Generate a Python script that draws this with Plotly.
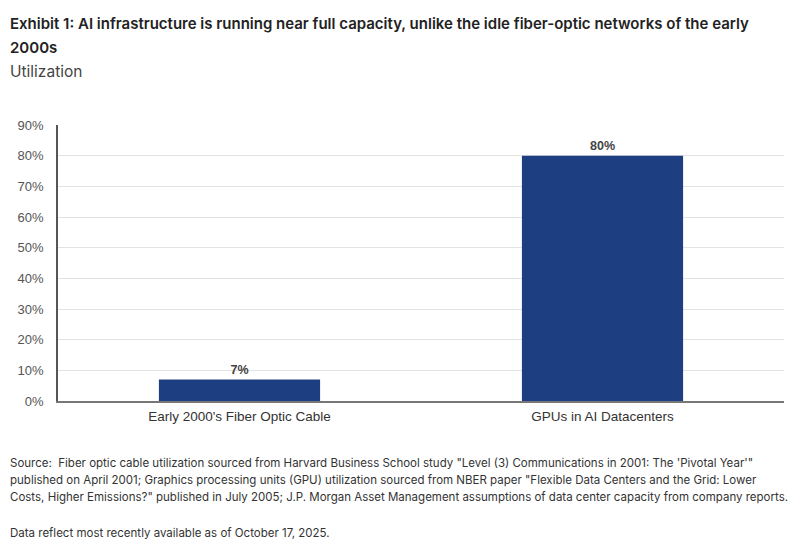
import plotly.graph_objects as go

# data
categories = ["Early 2000's Fiber Optic Cable", "GPUs in AI Datacenters"]
utilization = [7, 80]
bar_labels = ["7%", "80%"]
tick_vals = [0, 10, 20, 30, 40, 50, 60, 70, 80, 90]
tick_text = [f"{v}%" for v in tick_vals]

title_lines = ["Exhibit 1: AI infrastructure is running near full capacity, unlike the idle fiber-optic networks of the early",
               "2000s"]
subtitle = "Utilization"
source_lines = ["Source:  Fiber optic cable utilization sourced from Harvard Business School study \"Level (3) Communications in 2001: The 'Pivotal Year'\"",
                "published on April 2001; Graphics processing units (GPU) utilization sourced from NBER paper \"Flexible Data Centers and the Grid: Lower",
                "Costs, Higher Emissions?\" published in July 2005; J.P. Morgan Asset Management assumptions of data center capacity from company reports."]
date_note = "Data reflect most recently available as of October 17, 2025."

fig = go.Figure()
fig.add_trace(go.Bar(
    x=categories,
    y=utilization,
    text=bar_labels,
    textposition="outside",
    textfont=dict(family="Liberation Sans, Arial", size=12.5, color="#444444", weight="bold"),
    marker=dict(color="#1d3f82", line=dict(width=0)),
    cliponaxis=False,
))

# the page body adds an 8px offset, so the layout is pulled up/left by 8px
fig.update_layout(
    width=800, height=543,
    margin=dict(l=50, r=24, t=117, b=150, autoexpand=False),
    paper_bgcolor="white", plot_bgcolor="white",
    bargap=0.556,
    showlegend=False,
    font=dict(family="Liberation Sans, Arial", color="#444444"),
)
fig.update_yaxes(
    range=[0, 90], tickvals=tick_vals, ticktext=tick_text,
    tickfont=dict(family="Liberation Sans, Arial", size=13, color="#555555"),
    showgrid=True, gridcolor="#e3e3e3", gridwidth=1,
    showline=True, linecolor="#555555", linewidth=1.5,
    ticks="", ticklabelstandoff=10, zeroline=False,
)
fig.update_xaxes(
    tickfont=dict(family="Liberation Sans, Arial", size=13.5, color="#333333"),
    showline=True, linecolor="#777777", linewidth=2,
    ticks="", ticklabelstandoff=2,
)

# text blocks placed in paper coords, plot area is 276px tall with bottom at y=393
plot_h = 276
left_x = -50 / 726


def add_text(txt, top_px, size, color, weight=400):
    fig.add_annotation(text=txt, xref="paper", yref="paper", x=left_x, y=(393 - top_px) / plot_h,
                       xanchor="left", yanchor="top", showarrow=False, align="left",
                       font=dict(family="Inter", size=size, color=color, weight=weight))


for i, line in enumerate(title_lines):
    add_text(line, 4 + i * 24, 15, "#222222", 600)
add_text(subtitle, 52, 15.5, "#444444")
for i, line in enumerate(source_lines):
    add_text(line, 446 + i * 17, 11.5, "#333333")
add_text(date_note, 516, 11.5, "#333333")

fig.write_html("out.html")
